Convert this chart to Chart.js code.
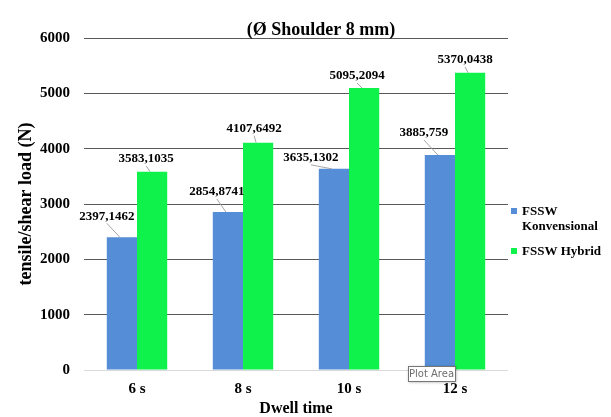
<!DOCTYPE html>
<html><head><meta charset="utf-8">
<script src="https://cdn.jsdelivr.net/npm/chart.js@4/dist/chart.umd.min.js"></script>
<style>html,body{margin:0;padding:0;background:#fff}</style>
</head><body>
<canvas id="c" width="611" height="417"></canvas>
<script>
// ---- data ----
const categories = ['6 s', '8 s', '10 s', '12 s'];
const konvensional = [2397.1462, 2854.8741, 3635.1302, 3885.759];
const hybrid = [3583.1035, 4107.6492, 5095.2094, 5370.0438];
const konvLabels = ['2397,1462', '2854,8741', '3635,1302', '3885,759'];
const hybridLabels = ['3583,1035', '4107,6492', '5095,2094', '5370,0438'];
const yTicks = [0, 1000, 2000, 3000, 4000, 5000, 6000];
const seriesNames = ['FSSW Konvensional', 'FSSW Hybrid'];
const chartTitle = '(Ø Shoulder 8 mm)';
const xTitle = 'Dwell time';
const yTitle = 'tensile/shear load (N)';

// ---- style ----
const BLUE = '#558dd6';
const GREEN = '#0ef24b';
const SERIF = '"Liberation Serif", "Times New Roman", serif';
// label offsets (dx, dy) relative to bar top centre
const labelOffsets = [
  [[-15, -21], [-11, -20], [-23, -11], [-16, -22]],
  [[-6, -13], [-4, -14], [-7, -12], [-5, -13]]
];

const extras = {
  id: 'extras',
  afterDraw(chart) {
    const ctx = chart.ctx;
    ctx.save();
    // title
    ctx.fillStyle = '#000';
    ctx.font = 'bold 18px ' + SERIF;
    ctx.textAlign = 'center';
    ctx.textBaseline = 'middle';
    ctx.fillText(chartTitle, 321, 30);

    // data labels
    const texts = [konvLabels, hybridLabels];
    ctx.font = 'bold 13px ' + SERIF;
    for (let d = 0; d < 2; d++) {
      const meta = chart.getDatasetMeta(d);
      meta.data.forEach((bar, i) => {
        const [dx, dy] = labelOffsets[d][i];
        const lx = bar.x + dx, ly = bar.y + dy;
        const sx = lx, sy = ly + 7;
        if (Math.hypot(bar.x - sx, bar.y - sy) > 3) {
          ctx.strokeStyle = '#a6a6a6';
          ctx.lineWidth = 1;
          ctx.beginPath();
          ctx.moveTo(sx, sy);
          ctx.lineTo(bar.x - 2, bar.y);
          ctx.stroke();
        }
        ctx.fillStyle = '#000';
        ctx.fillText(texts[d][i], lx, ly);
      });
    }

    // legend
    ctx.textAlign = 'left';
    ctx.font = 'bold 13px ' + SERIF;
    ctx.fillStyle = BLUE;
    ctx.fillRect(511, 208, 6, 6);
    ctx.fillStyle = '#000';
    ctx.fillText('FSSW', 522, 212);
    ctx.fillText('Konvensional', 522, 227);
    ctx.fillStyle = GREEN;
    ctx.fillRect(511, 248, 6, 6);
    ctx.fillStyle = '#000';
    ctx.fillText('FSSW Hybrid', 522, 252);

    // "Plot Area" hover box
    ctx.shadowColor = 'rgba(0,0,0,0.35)';
    ctx.shadowBlur = 3;
    ctx.shadowOffsetX = 1;
    ctx.shadowOffsetY = 1;
    ctx.fillStyle = '#fff';
    ctx.fillRect(408, 366, 47, 15);
    ctx.shadowColor = 'transparent';
    ctx.strokeStyle = '#767676';
    ctx.strokeRect(408.5, 366.5, 47, 15);
    ctx.fillStyle = '#6d6d6d';
    ctx.font = '10px "DejaVu Sans", sans-serif';
    ctx.textAlign = 'center';
    ctx.fillText('Plot Area', 431.5, 374);
    ctx.restore();
  }
};

new Chart(document.getElementById('c'), {
  type: 'bar',
  data: {
    labels: categories,
    datasets: [
      { label: seriesNames[0], data: konvensional, backgroundColor: BLUE, borderWidth: 0 },
      { label: seriesNames[1], data: hybrid, backgroundColor: GREEN, borderWidth: 0 }
    ]
  },
  options: {
    responsive: false,
    animation: false,
    devicePixelRatio: 1,
    layout: { padding: { top: 38, right: 103, bottom: 0, left: 0 } },
    datasets: { bar: { categoryPercentage: 0.57, barPercentage: 1.0 } },
    plugins: { legend: { display: false }, tooltip: { enabled: false }, title: { display: false } },
    scales: {
      x: {
        grid: { display: false, drawTicks: false },
        border: { display: false },
        ticks: { color: '#000', padding: 10, font: { family: SERIF, size: 15, weight: 'bold' } },
        title: { display: true, text: xTitle, color: '#000', padding: { top: 0, bottom: 0 },
                 font: { family: SERIF, size: 16, weight: 'bold', lineHeight: 1 } },
        afterFit(s) { s.height = 47; }
      },
      y: {
        min: 0, max: 6000,
        afterBuildTicks(s) { s.ticks = yTicks.map(v => ({ value: v })); },
        grid: {
          drawTicks: false,
          color: ctx => ctx.tick && ctx.tick.value === 0 ? '#d9d9d9' : '#595959',
          lineWidth: 1
        },
        border: { display: false },
        ticks: { color: '#000', padding: 14, font: { family: SERIF, size: 15, weight: 'bold' },
                 callback: v => String(v) },
        title: { display: true, text: yTitle, color: '#000', padding: { top: 16, bottom: 0 },
                 font: { family: SERIF, size: 18, weight: 'bold' } },
        afterFit(s) { s.width = 84; }
      }
    }
  },
  plugins: [extras]
});
</script>
</body></html>
